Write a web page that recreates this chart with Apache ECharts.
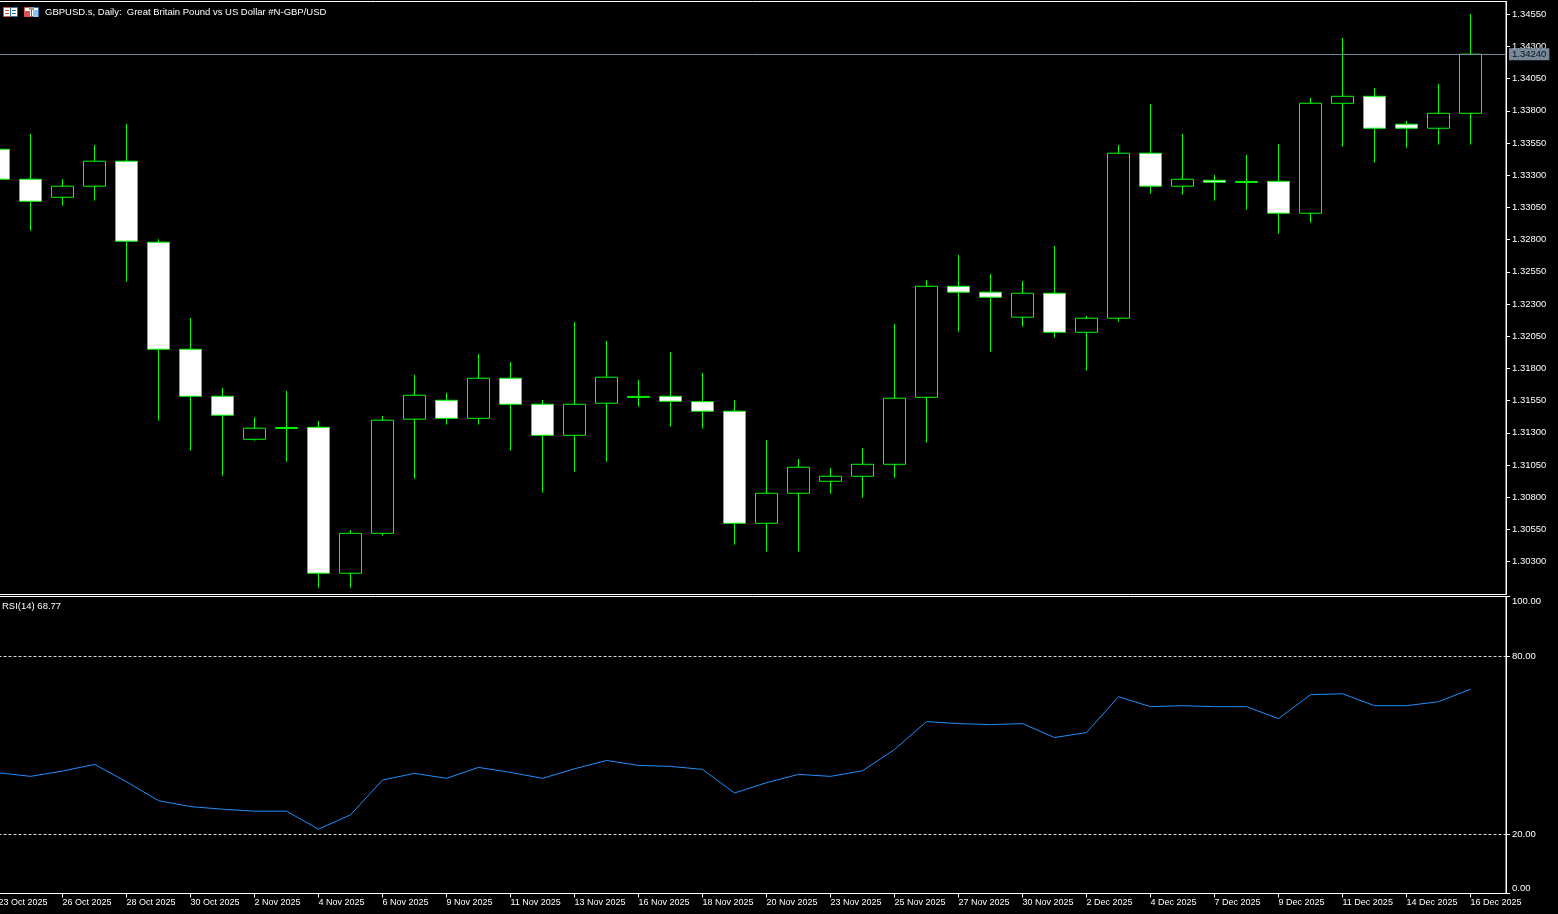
<!DOCTYPE html>
<html>
<head>
<meta charset="utf-8">
<style>html,body{margin:0;padding:0;background:#000;overflow:hidden}#c{width:1558px;height:914px}</style>
<script src="https://cdn.jsdelivr.net/npm/echarts@6/dist/echarts.min.js"></script>
</head>
<body>
<div id="c"></div>
<script>
const chartTitle = 'GBPUSD.s, Daily:  Great Britain Pound vs US Dollar #N-GBP/USD';
const rsiTitle = 'RSI(14) 68.77';
const lastPrice = 1.34240;
const opens = [1.33502,1.33269,1.33129,1.33215,1.33409,1.32780,1.31949,1.31584,1.31250,1.31334,1.31343,1.30210,1.30520,1.31406,1.31553,1.31413,1.31724,1.31522,1.31281,1.31530,1.31575,1.31584,1.31542,1.31468,1.30598,1.30831,1.30924,1.30963,1.31056,1.31576,1.32438,1.32392,1.32198,1.32384,1.32081,1.32190,1.33471,1.33215,1.33261,1.33244,1.33253,1.33005,1.33859,1.33913,1.33696,1.33665,1.33781];
const closes = [1.33269,1.33098,1.33215,1.33409,1.32788,1.31949,1.31584,1.31437,1.31336,1.31342,1.30210,1.30520,1.31398,1.31592,1.31413,1.31724,1.31522,1.31281,1.31522,1.31732,1.31583,1.31545,1.31468,1.30598,1.30831,1.31033,1.30963,1.31056,1.31569,1.32438,1.32392,1.32353,1.32384,1.32081,1.32190,1.33471,1.33215,1.33269,1.33246,1.33252,1.33005,1.33859,1.33913,1.33665,1.33665,1.33781,1.34240];
const lows = [1.33269,1.32870,1.33064,1.33103,1.32474,1.31395,1.31162,1.30968,1.31239,1.31076,1.30098,1.30098,1.30502,1.30944,1.31364,1.31364,1.31162,1.30836,1.30999,1.31076,1.31503,1.31348,1.31333,1.30432,1.30378,1.30378,1.30828,1.30797,1.30952,1.31224,1.32086,1.31930,1.32125,1.32039,1.31783,1.32163,1.33157,1.33149,1.33103,1.33033,1.32847,1.32932,1.33522,1.33398,1.33514,1.33538,1.33538];
const highs = [1.33502,1.33621,1.33269,1.33535,1.33698,1.32803,1.32192,1.31649,1.31421,1.31625,1.31392,1.30546,1.31431,1.31750,1.31610,1.31913,1.31850,1.31555,1.32161,1.32014,1.31711,1.31928,1.31765,1.31555,1.31245,1.31097,1.31027,1.31183,1.32145,1.32487,1.32681,1.32534,1.32479,1.32751,1.32208,1.33535,1.33854,1.33621,1.33302,1.33458,1.33543,1.33900,1.34366,1.33978,1.33722,1.34009,1.34552];
const rsiValues = [40.65,39.44,41.22,43.47,37.63,31.26,29.25,28.38,27.71,27.71,21.68,26.47,38.20,40.45,38.77,42.46,40.78,38.77,41.99,44.80,43.13,42.79,41.79,33.84,37.30,40.11,39.44,41.32,48.49,57.88,57.21,56.87,57.21,52.51,54.19,66.26,62.91,63.24,62.91,62.91,58.88,66.93,67.26,63.24,63.24,64.58,68.77];
const dateTickIndex = [0,2,4,6,8,10,12,14,16,18,20,22,24,26,28,30,32,34,36,38,40,42,44,46];
const dateTickLabels = ['23 Oct 2025','26 Oct 2025','28 Oct 2025','30 Oct 2025','2 Nov 2025','4 Nov 2025','6 Nov 2025','9 Nov 2025','11 Nov 2025','13 Nov 2025','16 Nov 2025','18 Nov 2025','20 Nov 2025','23 Nov 2025','25 Nov 2025','27 Nov 2025','30 Nov 2025','2 Dec 2025','4 Dec 2025','7 Dec 2025','9 Dec 2025','11 Dec 2025','14 Dec 2025','16 Dec 2025'];
const priceTicks = [1.3030,1.3055,1.3080,1.3105,1.3130,1.3155,1.3180,1.3205,1.3230,1.3255,1.3280,1.3305,1.3330,1.3355,1.3380,1.3405,1.3430,1.3455];
const rsiTicks = [0,20,80,100];
const rsiLevels = [20,80];

const FONT = '"Liberation Sans", Arial, sans-serif';
const WHITE = '#ffffff';
const GREEN = '#00ff00';

const chart = echarts.init(document.getElementById('c'), null, {renderer:'canvas', width:1558, height:914});
const xCommon = {type:'value', min:0, max:47.109, splitLine:{show:false}};

function icon(x, y, left, right) {
  return [
    {type:'rect', shape:{x:x+0.5,y:y+0.5,width:7,height:9}, style:{fill:'#fff',stroke:left,lineWidth:1}, silent:true},
    {type:'rect', shape:{x:x+7.5,y:y+0.5,width:7,height:9}, style:{fill:'#fff',stroke:right,lineWidth:1}, silent:true}
  ];
}

chart.setOption({
  animation:false,
  backgroundColor:'#000000',
  title:[
    {text:chartTitle,left:45,top:7,textStyle:{color:WHITE,fontSize:9.5,fontWeight:'normal',fontFamily:FONT},padding:0},
    {text:rsiTitle,left:2,top:601,textStyle:{color:WHITE,fontSize:9.5,fontWeight:'normal',fontFamily:FONT},padding:0}
  ],
  graphic:[
    ...icon(3,7,'#d9534f','#2a6fb0'),
    {type:'rect',shape:{x:5,y:10,width:4,height:1},style:{fill:'#d9534f'},silent:true},
    {type:'rect',shape:{x:5,y:13,width:4,height:1},style:{fill:'#d9534f'},silent:true},
    {type:'rect',shape:{x:12,y:10,width:4,height:1},style:{fill:'#2a6fb0'},silent:true},
    {type:'rect',shape:{x:12,y:13,width:4,height:1},style:{fill:'#2a6fb0'},silent:true},
    ...icon(24,7,'#d9534f','#2a6fb0'),
    {type:'rect',shape:{x:25,y:11,width:5,height:6},style:{fill:'#d9534f'},silent:true},
    {type:'rect',shape:{x:33,y:10,width:5,height:7},style:{fill:'#8fc4ec'},silent:true},
    {type:'rect',shape:{x:29,y:7,width:5,height:3},style:{fill:'#999999'},silent:true}
  ],
  grid:[
    {left:-1.5,top:1.5,width:1507.5,height:593,show:true,borderColor:WHITE,borderWidth:1,backgroundColor:'#000',outerBoundsMode:'none'},
    {left:-1.5,top:596.5,width:1507.5,height:297,show:true,borderColor:WHITE,borderWidth:1,backgroundColor:'#000',outerBoundsMode:'none'}
  ],
  xAxis:[
    {...xCommon,gridIndex:0,axisLine:{show:false,onZero:false},axisTick:{show:false},axisLabel:{show:false}},
    {...xCommon,gridIndex:1,
      axisLine:{show:true,onZero:false,lineStyle:{color:WHITE}},
      axisTick:{show:true,length:4,customValues:dateTickIndex,lineStyle:{color:WHITE}},
      axisLabel:{show:true,customValues:dateTickIndex,color:WHITE,fontSize:9,fontFamily:FONT,align:'left',margin:5,hideOverlap:false,
        formatter:v=>dateTickLabels[dateTickIndex.indexOf(v)]}}
  ],
  yAxis:[
    {type:'value',gridIndex:0,position:'right',min:1.30045,max:1.34649,scale:true,splitLine:{show:false},
      axisLine:{show:true,onZero:false,lineStyle:{color:WHITE}},
      axisTick:{show:true,length:4,customValues:priceTicks,lineStyle:{color:WHITE}},
      axisLabel:{show:true,customValues:priceTicks,color:WHITE,fontSize:9.5,fontFamily:FONT,margin:6,padding:[2,0,0,0],hideOverlap:false,formatter:v=>v.toFixed(5)}},
    {type:'value',gridIndex:1,position:'right',min:0,max:100,splitLine:{show:false},
      axisLine:{show:true,onZero:false,lineStyle:{color:WHITE}},
      axisTick:{show:true,length:4,customValues:rsiTicks,lineStyle:{color:WHITE}},
      axisLabel:{show:true,customValues:rsiTicks,color:WHITE,fontSize:9.5,fontFamily:FONT,margin:6,hideOverlap:false,
        verticalAlignMinLabel:'bottom',verticalAlignMaxLabel:'top',formatter:v=>v.toFixed(2)}}
  ],
  series:[
    {type:'candlestick',name:'GBPUSD.s',xAxisIndex:0,yAxisIndex:0,barWidth:22,silent:true,
      data:opens.map((o,i)=>[i,o,closes[i],lows[i],highs[i]]),
      itemStyle:{color:'#000000',color0:'#ffffff',borderColor:GREEN,borderColor0:GREEN,borderColorDoji:GREEN,borderWidth:1},
      markLine:{silent:true,symbol:'none',animation:false,z:10,precision:5,
        lineStyle:{color:'#778899',type:'solid',width:1},
        label:{show:true,position:'end',distance:3,formatter:lastPrice.toFixed(5),color:'#0a1420',fontSize:9.5,fontFamily:FONT,backgroundColor:'#778899',padding:[1,3,1,3]},
        data:[{yAxis:lastPrice}]}},
    {type:'line',name:'RSI(14)',xAxisIndex:1,yAxisIndex:1,showSymbol:false,silent:true,
      data:rsiValues.map((v,i)=>[i,v]),
      lineStyle:{color:'#1e90ff',width:1},
      markLine:{silent:true,symbol:'none',animation:false,label:{show:false},
        lineStyle:{color:'#d8d8d8',type:[3,2],width:1},
        data:rsiLevels.map(v=>({yAxis:v}))}}
  ]
});
</script>
</body>
</html>
